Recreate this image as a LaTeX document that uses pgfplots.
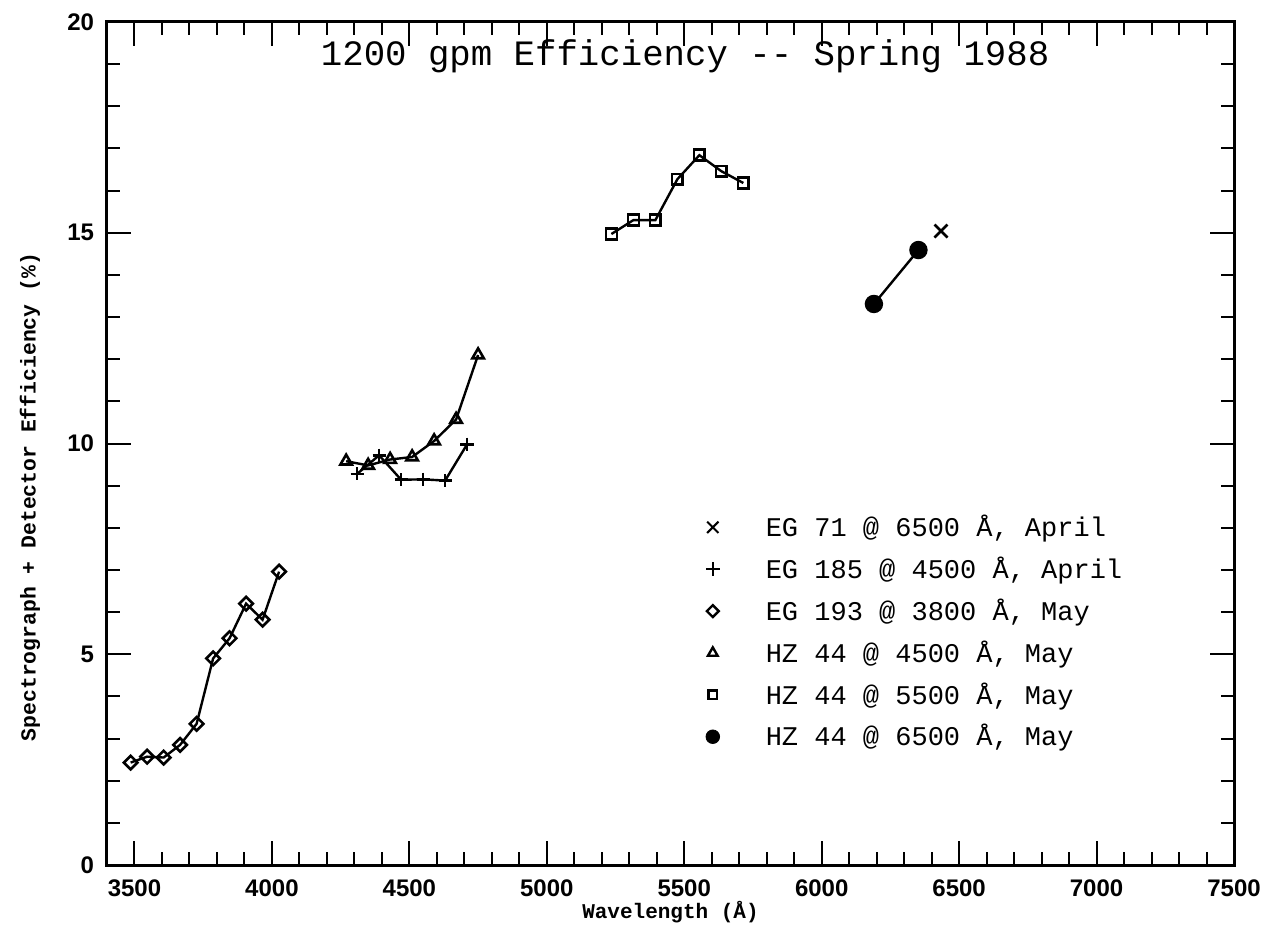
\documentclass[border=0pt]{standalone}
\usepackage{fontspec}
\usepackage{pgfplots}
\pgfplotsset{compat=1.18}
\setmainfont{Liberation Mono}
\newfontfamily\tickfont{Liberation Sans}
\newfontfamily\monofont{Liberation Mono}

\pgfplotstableread{
x y
3486 2.43
3546 2.57
3606 2.55
3666 2.85
3726 3.35
3786 4.90
3846 5.38
3906 6.20
3966 5.82
4026 6.96
}\diamonddata
\pgfplotstableread{
x y
4270 9.58
4350 9.48
4430 9.62
4510 9.68
4590 10.06
4670 10.57
4750 12.10
}\tridata
\pgfplotstableread{
x y
4310 9.28
4390 9.72
4470 9.14
4550 9.15
4630 9.12
4710 9.98
}\plusdata
\pgfplotstableread{
x y
5235 14.97
5315 15.30
5395 15.30
5475 16.27
5555 16.84
5635 16.46
5715 16.18
}\squaredata
\pgfplotstableread{
x y
6190 13.31
6352 14.59
}\circledata
\pgfplotstableread{
x y
6434 15.04
}\crossdata

\begin{document}
\begin{tikzpicture}
\begin{axis}[
  name=ax,
  scale only axis,
  width=563.5bp, height=421.5bp,
  xmin=3400, xmax=7500, ymin=0, ymax=20,
  xtick={3500,4000,...,7500},
  ytick={0,5,...,20},
  minor x tick num=4,
  minor y tick num=4,
  tick align=inside,
  major tick length=12bp,
  minor tick length=6.5bp,
  axis line style={line width=1.5bp},
  every tick/.style={black, line width=1bp},
  /pgf/number format/assume math mode=true,
  /pgf/number format/set thousands separator={},
  tick label style={font=\tickfont\bfseries\fontsize{12bp}{14bp}\selectfont},
  xticklabel style={yshift=-4bp},
  yticklabel style={xshift=-3bp},
  xlabel={Wavelength (Å)},
  ylabel={Spectrograph + Detector Efficiency (\%)},
  every axis x label/.style={at={(axis description cs:0.5,-0.0558)}, anchor=center, font=\monofont\bfseries\fontsize{10.5bp}{12bp}\selectfont},
  every axis y label/.style={at={(axis description cs:-0.0683,0.4365)}, anchor=center, rotate=90, font=\monofont\bfseries\fontsize{10.7bp}{12bp}\selectfont},
  title={1200 gpm Efficiency -{}- Spring 1988},
  title style={at={(axis description cs:0.513,1)}, anchor=base, yshift=-27.5bp, font=\monofont\fontsize{17.85bp}{20bp}\selectfont},
  legend image code/.code={\path[draw=none,fill=none] (-6bp,0bp) -- (24.5bp,0bp); \draw[#1] plot coordinates {(0bp,0bp)};},
  legend style={draw=none, fill=none, at={(axis cs:5537,8.5)}, anchor=north west,
    font=\monofont\fontsize{13.5bp}{16bp}\selectfont, row sep=4.7bp},
  legend cell align=left,
]
\addplot[forget plot, black, line width=1.2bp, mark=square, mark size=2.4bp,
  mark options={rotate=45, line width=1.3bp, fill=white, solid}] table {\diamonddata};
\addplot[forget plot, black, line width=1.2bp, mark=triangle, mark size=3.3bp,
  mark options={line width=1.3bp, fill=white, solid}] table {\tridata};
\addplot[forget plot, black, line width=1.2bp, mark=+, mark size=3.3bp,
  mark options={line width=1.3bp, solid}] table {\plusdata};
\addplot[forget plot, black, line width=1.2bp, mark=square, mark size=2.7bp,
  mark options={line width=1.3bp, solid}] table {\squaredata};
\addplot[forget plot, black, line width=1.2bp, mark=*, mark size=4bp,
  mark options={solid}] table {\circledata};
\addplot[forget plot, black, only marks, mark=x, mark size=4.6bp,
  mark options={line width=1.3bp}] table {\crossdata};

\addlegendimage{black, only marks, mark=x, mark size=4bp, mark options={line width=1bp}}
\addlegendentry{EG 71 @ 6500 Å, April}
\addlegendimage{black, only marks, mark=+, mark size=3.4bp, mark options={line width=1.1bp}}
\addlegendentry{EG 185 @ 4500 Å, April}
\addlegendimage{black, only marks, mark=square, mark size=2.1bp, mark options={rotate=45, line width=1.2bp}}
\addlegendentry{EG 193 @ 3800 Å, May}
\addlegendimage{black, only marks, mark=triangle, mark size=2.8bp, mark options={line width=1.2bp}}
\addlegendentry{HZ 44 @ 4500 Å, May}
\addlegendimage{black, only marks, mark=square, mark size=2.2bp, mark options={line width=1.2bp}}
\addlegendentry{HZ 44 @ 5500 Å, May}
\addlegendimage{black, only marks, mark=*, mark size=3.4bp}
\addlegendentry{HZ 44 @ 6500 Å, May}
\end{axis}
\pgfresetboundingbox
\path[use as bounding box] ([xshift=-53.5bp,yshift=-30.5bp]ax.south west) rectangle ([xshift=17.5bp,yshift=11bp]ax.north east);
\end{tikzpicture}
\end{document}
